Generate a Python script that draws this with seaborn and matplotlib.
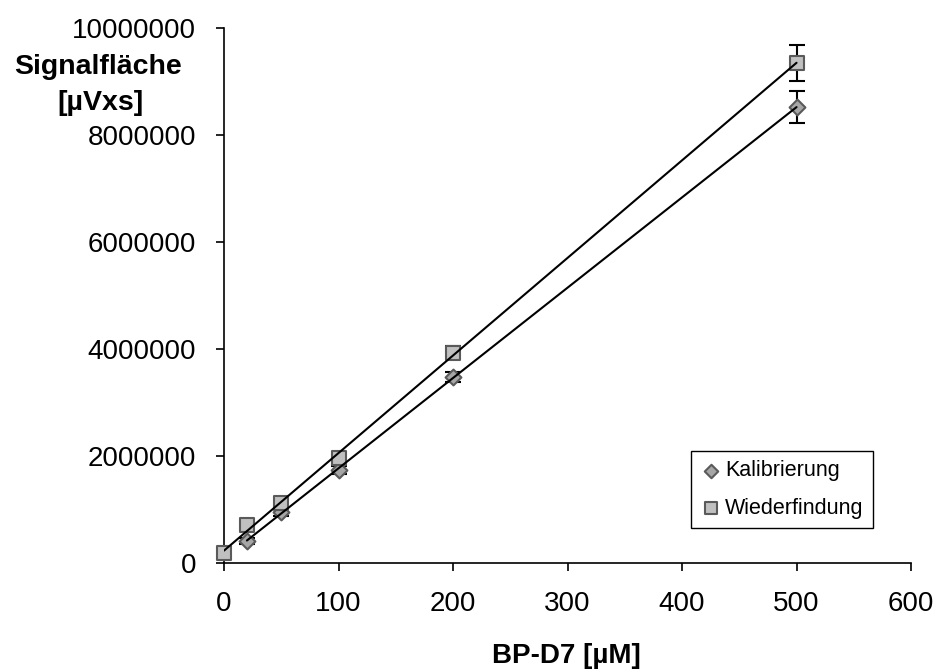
import numpy as np
import pandas as pd
import matplotlib
matplotlib.use('Agg')
import matplotlib.pyplot as plt
import seaborn as sns
from matplotlib.ticker import FuncFormatter

# Data
kal_x = [20, 50, 100, 200, 500]
kal_y = [410000, 950000, 1740000, 3480000, 8520000]
kal_err = [60000, 80000, 80000, 100000, 300000]

wie_x = [0, 20, 50, 100, 200, 500]
wie_y = [190000, 710000, 1120000, 1960000, 3930000, 9350000]
wie_err = [50000, 70000, 90000, 90000, 120000, 330000]

x_ticks = [0, 100, 200, 300, 400, 500, 600]
y_ticks = [0, 2000000, 4000000, 6000000, 8000000, 10000000]

sns.set_style('ticks')
plt.rcParams['font.family'] = ['Liberation Sans', 'DejaVu Sans']
plt.rcParams['text.color'] = 'black'

kal = pd.DataFrame({'x': kal_x, 'y': kal_y})
wie = pd.DataFrame({'x': wie_x, 'y': wie_y})

fig = plt.figure(figsize=(9.35, 6.71), dpi=100)
ax = fig.add_axes([0.2396, 0.161, 0.7348, 0.797])

# error bars
ax.errorbar(kal_x, kal_y, yerr=kal_err, fmt='none', ecolor='black',
            elinewidth=1.5, capsize=6, capthick=1.5, zorder=2, clip_on=False)
ax.errorbar(wie_x, wie_y, yerr=wie_err, fmt='none', ecolor='black',
            elinewidth=1.5, capsize=6, capthick=1.5, zorder=2, clip_on=False)

# markers
sns.scatterplot(data=kal, x='x', y='y', marker='D', s=65, color='#a6a6a6',
                edgecolor='#5a5a5a', linewidth=1.5, ax=ax, zorder=3,
                label='Kalibrierung', clip_on=False)
sns.scatterplot(data=wie, x='x', y='y', marker='s', s=95, color='#c0c0c0',
                edgecolor='#5a5a5a', linewidth=1.5, ax=ax, zorder=3,
                label='Wiederfindung', clip_on=False)

# linear trend lines
sns.regplot(data=kal, x='x', y='y', scatter=False, ci=None, ax=ax,
            line_kws={'color': 'black', 'linewidth': 1.5, 'zorder': 4})
sns.regplot(data=wie, x='x', y='y', scatter=False, ci=None, ax=ax,
            line_kws={'color': 'black', 'linewidth': 1.5, 'zorder': 4})

ax.set_xlim(0, 600)
ax.set_ylim(0, 10000000)
ax.set_xticks(x_ticks)
ax.set_yticks(y_ticks)
ax.yaxis.set_major_formatter(FuncFormatter(lambda v, p: f'{int(v)}'))
ax.tick_params(axis='both', direction='out', length=6, width=1.2,
               labelsize=20, colors='black', pad=14)
for s in ['top', 'right']:
    ax.spines[s].set_visible(False)
for s in ['left', 'bottom']:
    ax.spines[s].set_linewidth(1.2)
    ax.spines[s].set_color('black')

ax.set_xlabel('')
ax.set_ylabel('')
fig.text(0.606, 0.012, 'BP-D7 [µM]', ha='center', va='baseline',
         fontsize=20, fontweight='bold')
fig.text(0.105, 0.8897, 'Signalfläche', ha='center', va='baseline',
         fontsize=20.5, fontweight='bold')
fig.text(0.108, 0.836, '[µVxs]', ha='center', va='baseline',
         fontsize=20.5, fontweight='bold')

leg = ax.legend(loc='lower right', bbox_to_anchor=(0.945, 0.065),
                fontsize=15.5, frameon=True, fancybox=False,
                handletextpad=0.15, borderpad=0.45, labelspacing=0.75,
                handlelength=1.0, borderaxespad=0, markerscale=0.85)
leg.get_frame().set_edgecolor('black')
leg.get_frame().set_linewidth(1.0)
leg.get_frame().set_alpha(1)

fig.savefig('out.png', dpi=100, facecolor='white')
